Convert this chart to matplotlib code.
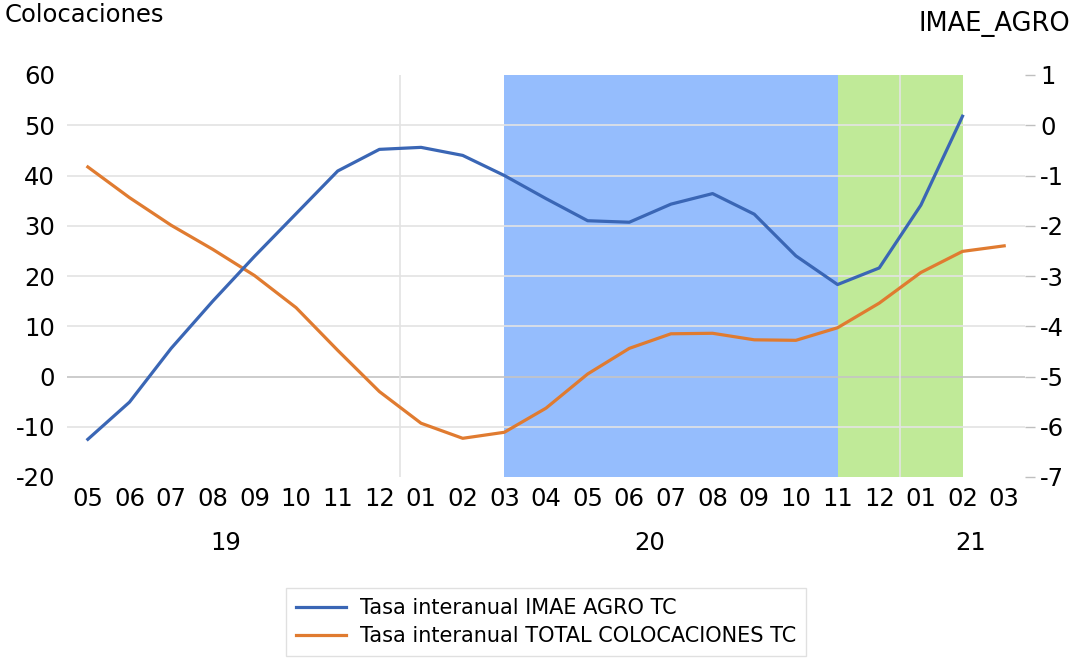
import matplotlib
matplotlib.use("Agg")
import matplotlib.pyplot as plt

plt.rcParams["axes.unicode_minus"] = False

months = ["05", "06", "07", "08", "09", "10", "11", "12",
          "01", "02", "03", "04", "05", "06", "07", "08", "09", "10", "11", "12",
          "01", "02", "03"]
years = ["19", "20", "21"]
year_pos = [3.3, 13.5, 21.2]

imae_agro = [-6.25, -5.51, -4.44, -3.50, -2.61, -1.76, -0.91, -0.48,
             -0.44, -0.60, -1.00, -1.46, -1.90, -1.93, -1.57, -1.36, -1.77,
             -2.60, -3.17, -2.84, -1.59, 0.18, None]
colocaciones = [41.7, 35.6, 30.1, 25.3, 20.1, 13.7, 5.2, -3.0,
                -9.3, -12.3, -11.1, -6.3, 0.5, 5.6, 8.5, 8.6, 7.3,
                7.2, 9.7, 14.6, 20.7, 24.9, 26.0]

left_ticks = [-20, -10, 0, 10, 20, 30, 40, 50, 60]
right_ticks = [-7, -6, -5, -4, -3, -2, -1, 0, 1]

blue_span = (10, 18)
green_span = (18, 21)
year_breaks = [7.5, 19.5]

BLUE = "#3A66B5"
ORANGE = "#E07B30"
SHADE_BLUE = "#95BDFD"
SHADE_GREEN = "#C0EA98"
GRID = "#E3E3E3"
FS = 17.5

fig = plt.figure(figsize=(10.73, 6.6), dpi=100)
ax = fig.add_axes([67/1073, 1-477/660, (1025-67)/1073, (477-75)/660])
ax2 = ax.twinx()

x = list(range(len(months)))

ax.axvspan(*blue_span, color=SHADE_BLUE, zorder=0.1, lw=0)
ax.axvspan(*green_span, color=SHADE_GREEN, zorder=0.1, lw=0)

for v in left_ticks[1:-1]:
    ax.axhline(v, color="#C4C4C4" if v == 0 else GRID, lw=1.2, zorder=0.5)
for xb in year_breaks:
    ax.axvline(xb, color=GRID, lw=1.2, zorder=0.5)

lo, = ax.plot(x, colocaciones, color=ORANGE, lw=2.3, zorder=3,
              label="Tasa interanual TOTAL COLOCACIONES TC")
bx = [i for i, v in zip(x, imae_agro) if v is not None]
by = [v for v in imae_agro if v is not None]
lb, = ax2.plot(bx, by, color=BLUE, lw=2.3, zorder=3,
               label="Tasa interanual IMAE AGRO TC")

ax.set_xlim(-0.5, len(months) - 0.5)
ax.set_ylim(-20, 60)
ax2.set_ylim(-7, 1)
ax.set_yticks(left_ticks)
ax2.set_yticks(right_ticks)
ax.set_xticks(x)
ax.set_xticklabels(months)

for a in (ax, ax2):
    for s in a.spines.values():
        s.set_visible(False)

ax.tick_params(axis="y", length=0, pad=8.5, labelsize=FS)
ax.tick_params(axis="x", length=0, pad=7, labelsize=FS)
ax2.tick_params(axis="y", length=7, width=1, color="#BFBFBF", pad=4, labelsize=FS)

for xp, yl in zip(year_pos, years):
    ax.text(xp, -0.165, yl, transform=ax.get_xaxis_transform(),
            ha="center", va="center", fontsize=FS)

fig.text(5/1073, 1-15/660, "Colocaciones", ha="left", va="center", fontsize=17.5)
fig.text(1070/1073, 1-24/660, "IMAE_AGRO", ha="right", va="center", fontsize=18.5)

leg = fig.legend(handles=[lb, lo], loc="center", bbox_to_anchor=(546/1073, 1-622/660),
                 fontsize=15, frameon=True, fancybox=False, handlelength=2.4,
                 handletextpad=0.65, labelspacing=0.38, borderpad=0.5)
leg.get_frame().set_edgecolor("#D9D9D9")
leg.get_frame().set_linewidth(1)

fig.savefig("out.png", dpi=100)
